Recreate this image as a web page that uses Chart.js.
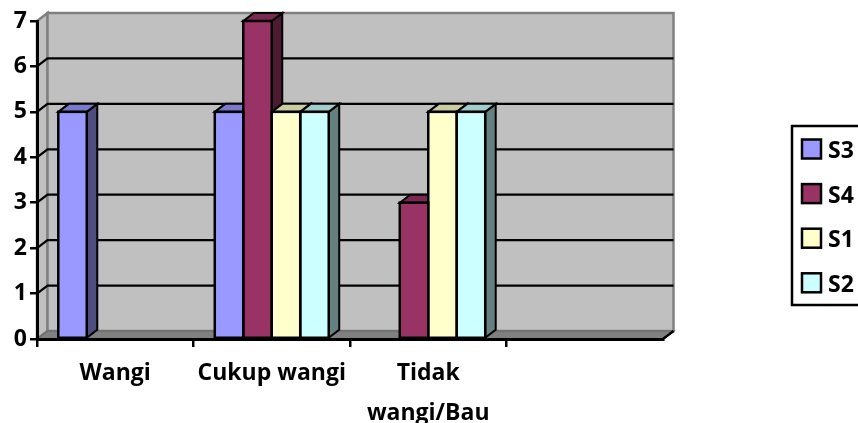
<!DOCTYPE html>
<html>
<head>
<meta charset="utf-8">
<title>Aroma</title>
<style>
  html, body { margin: 0; padding: 0; background: #fff; overflow: hidden; }
  canvas { display: block; }
</style>
<script src="https://cdn.jsdelivr.net/npm/chart.js@4/dist/chart.umd.min.js"></script>
</head>
<body>
<canvas id="chart" width="858" height="423"></canvas>
<script>
const categories = ['Wangi', 'Cukup wangi', ['Tidak', 'wangi/Bau'], ''];
const s3 = [5, 5, null, null];
const s4 = [null, 7, 3, null];
const s1 = [null, 5, 5, null];
const s2 = [null, 5, 5, null];
const yTicks = [0, 1, 2, 3, 4, 5, 6, 7];

const fontFamily = '"Open Sans", Lato, sans-serif';
const fontSize = 23;
const depthX = 10.5;
const depthY = 8;

function poly(ctx, pts, fill, stroke, width) {
  ctx.beginPath();
  pts.forEach((p, i) => i ? ctx.lineTo(p[0], p[1]) : ctx.moveTo(p[0], p[1]));
  ctx.closePath();
  if (fill) { ctx.fillStyle = fill; ctx.fill(); }
  if (stroke) { ctx.strokeStyle = stroke; ctx.lineWidth = width; ctx.stroke(); }
}

function shade(hex, k) {
  const n = parseInt(hex.slice(1), 16);
  const c = [n >> 16, (n >> 8) & 255, n & 255].map(v => Math.round(v * k));
  return `rgb(${c[0]},${c[1]},${c[2]})`;
}

// runs fn for every bar that has a value, first series first
function eachBar(chart, fn) {
  chart.data.datasets.forEach((ds, i) => {
    chart.getDatasetMeta(i).data.forEach((bar, j) => {
      if (ds.data[j] !== null) fn(bar, ds);
    });
  });
}

const boxPlugin = {
  id: 'box3d',
  // back wall, side wall and floor
  beforeDraw(chart) {
    const { ctx, chartArea: a, scales: { y } } = chart;
    const bx = a.left + depthX, by = a.top - depthY;
    const rx = a.right + depthX, bb = a.bottom - depthY;
    ctx.save();
    poly(ctx, [[a.left, a.top], [bx, by], [bx, bb], [a.left, a.bottom]], '#c0c0c0', '#808080', 2.5);
    poly(ctx, [[bx, by], [rx, by], [rx, bb], [bx, bb]], '#c0c0c0', '#808080', 2.5);
    ctx.strokeStyle = '#000';
    ctx.lineWidth = 2.2;
    yTicks.slice(1, -1).forEach(v => {
      const py = y.getPixelForValue(v);
      ctx.beginPath();
      ctx.moveTo(a.left, py);
      ctx.lineTo(bx, py - depthY);
      ctx.lineTo(rx, py - depthY);
      ctx.stroke();
    });
    poly(ctx, [[a.left, a.bottom], [a.right, a.bottom], [rx, bb], [bx, bb]], '#808080', '#6e6e6e', 1.5);
    ctx.strokeStyle = '#000';
    ctx.lineWidth = 2.5;
    ctx.beginPath();
    ctx.moveTo(a.right, a.bottom);
    ctx.lineTo(rx, bb);
    ctx.stroke();
    ctx.restore();
  },
  // top and side faces of the bars
  beforeDatasetsDraw(chart) {
    const { ctx } = chart;
    ctx.save();
    eachBar(chart, (bar, ds) => {
      const l = bar.x - bar.width / 2, r = bar.x + bar.width / 2;
      const t = bar.y, b = bar.base;
      poly(ctx, [[r, t], [r + depthX, t - depthY], [r + depthX, b - depthY], [r, b]], shade(ds.backgroundColor, 0.5), '#000', 2);
      poly(ctx, [[l, t], [r, t], [r + depthX, t - depthY], [l + depthX, t - depthY]], shade(ds.backgroundColor, 0.8), '#000', 2);
    });
    ctx.restore();
  },
  // shared outline for the front faces
  afterDatasetsDraw(chart) {
    const { ctx } = chart;
    ctx.save();
    ctx.strokeStyle = '#000';
    ctx.lineWidth = 2.5;
    eachBar(chart, bar => {
      ctx.strokeRect(bar.x - bar.width / 2, bar.y, bar.width, bar.base - bar.y);
    });
    ctx.restore();
  },
  // framed legend on the right, running past the page edge
  afterDraw(chart) {
    const { ctx } = chart;
    ctx.save();
    ctx.lineWidth = 2.5;
    ctx.strokeStyle = '#000';
    ctx.strokeRect(792, 126, 90, 179);
    ctx.font = `bold ${fontSize}px ${fontFamily}`;
    ctx.textBaseline = 'middle';
    chart.data.datasets.forEach((ds, i) => {
      const top = 139.5 + i * 44.6;
      ctx.fillStyle = ds.backgroundColor;
      ctx.fillRect(802, top, 19, 19);
      ctx.strokeRect(802, top, 19, 19);
      ctx.fillStyle = '#000';
      ctx.fillText(ds.label, 828, top + 12);
    });
    ctx.restore();
  }
};

function series(label, data, color) {
  return { label, data, backgroundColor: color, borderWidth: 0 };
}

new Chart(document.getElementById('chart'), {
  type: 'bar',
  data: {
    labels: categories,
    datasets: [
      series('S3', s3, '#9999ff'),
      series('S4', s4, '#993366'),
      series('S1', s1, '#ffffcc'),
      series('S2', s2, '#ccffff')
    ]
  },
  options: {
    responsive: false,
    animation: false,
    events: [],
    layout: { padding: { top: 21, right: 195, left: 0, bottom: 0 } },
    datasets: { bar: { categoryPercentage: 0.728, barPercentage: 1 } },
    plugins: {
      tooltip: { enabled: false },
      legend: { display: false }
    },
    scales: {
      x: {
        afterFit(scale) { scale.height = 84; },
        border: { color: '#000', width: 3 },
        grid: {
          drawOnChartArea: false,
          tickLength: 8,
          lineWidth: 2.5,
          // no tick at the far right end of the axis
          color: ctx => ctx.tick ? '#000' : 'transparent'
        },
        ticks: {
          color: '#000',
          autoSkip: false,
          maxRotation: 0,
          padding: 6,
          font: { family: fontFamily, size: fontSize, weight: 'bold', lineHeight: 1.75 }
        }
      },
      y: {
        min: 0,
        max: 7,
        afterFit(scale) { scale.width = 37; },
        border: { color: '#000', width: 3 },
        grid: { drawOnChartArea: false, tickLength: 7, lineWidth: 2.5, color: '#000' },
        ticks: {
          color: '#000',
          stepSize: 1,
          padding: 3,
          font: { family: fontFamily, size: fontSize, weight: 'bold' }
        }
      }
    }
  },
  plugins: [boxPlugin]
});
</script>
</body>
</html>
